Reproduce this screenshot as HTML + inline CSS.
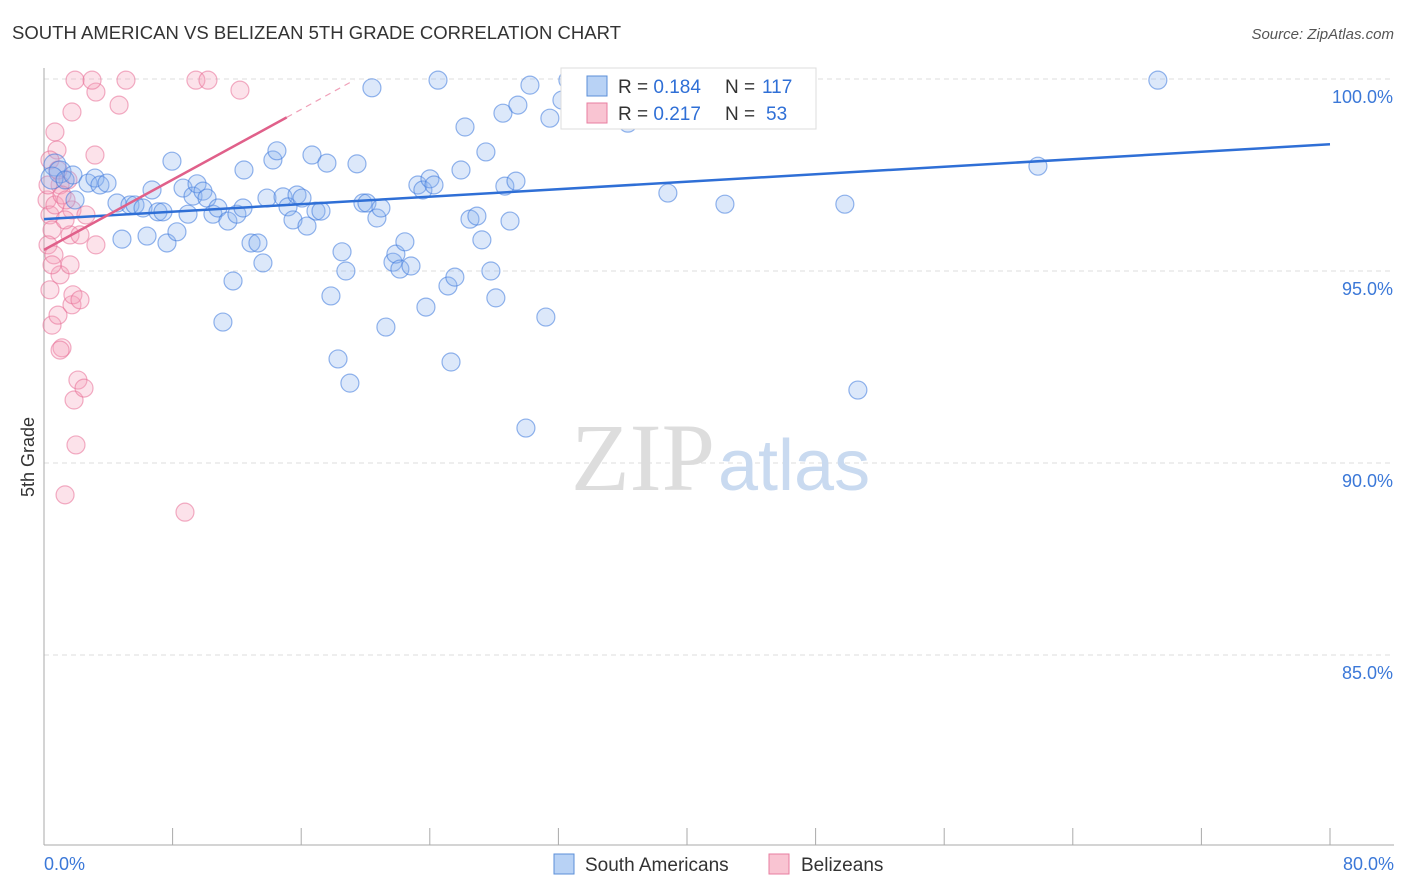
<!DOCTYPE html>
<html><head><meta charset="utf-8"><style>
body{margin:0;background:#fff;font-family:"Liberation Sans",sans-serif;}
</style></head><body>
<svg width="1406" height="892" viewBox="0 0 1406 892" xmlns="http://www.w3.org/2000/svg" style="display:block">
<text x="12" y="39" font-size="18.5" fill="#333" textLength="609">SOUTH AMERICAN VS BELIZEAN 5TH GRADE CORRELATION CHART</text>
<text x="1394" y="39" font-size="15" fill="#555" text-anchor="end" font-style="italic">Source: ZipAtlas.com</text>
<g id="grid"></g>
<g id="axes"></g>
<text x="715" y="490" font-size="96" font-family="Liberation Serif" fill="#ddd" text-anchor="end">ZIP</text>
<text x="718" y="490" font-size="72" fill="#c9daf0">atlas</text>
<g id="pink"></g>
<g id="blue"></g>
<g id="trends"></g>
<text x="34" y="457" font-size="18" fill="#333" text-anchor="middle" transform="rotate(-90 34 457)">5th Grade</text>
<g>
<rect x="561" y="68" width="255" height="61" fill="#fff" stroke="#ddd"/>
<rect x="587" y="76" width="20" height="20" fill="#b8d2f5" stroke="#5b8fd8"/>
<rect x="587" y="103" width="20" height="20" fill="#f9c4d2" stroke="#e87ea0"/>
<text x="618" y="93" font-size="19" fill="#333">R = <tspan fill="#2f6fd6">0.184</tspan></text>
<text x="725" y="93" font-size="19" fill="#333">N = <tspan x="762" fill="#2f6fd6">117</tspan></text>
<text x="618" y="120" font-size="19" fill="#333">R = <tspan fill="#2f6fd6">0.217</tspan></text>
<text x="725" y="120" font-size="19" fill="#333">N = <tspan x="766" fill="#2f6fd6">53</tspan></text>
</g>
<g>
<rect x="554" y="854" width="20" height="20" fill="#b8d2f5" stroke="#5b8fd8"/>
<text x="585" y="871" font-size="19" fill="#333">South Americans</text>
<rect x="769" y="854" width="20" height="20" fill="#f9c4d2" stroke="#e87ea0"/>
<text x="801" y="871" font-size="19" fill="#333">Belizeans</text>
</g>
</svg>
<script>
const yTicks=[100,95,90,85];
const yTickLabels=["100.0%","95.0%","90.0%","85.0%"];
const xTicks=[0,8,16,24,32,40,48,56,64,72,80];
const blueX=[0.68,1.0,0.5,1.31,1.93,1.8,2.74,3.17,3.48,3.92,4.54,4.85,5.35,5.66,6.16,6.41,6.72,7.09,7.4,7.65,7.96,8.27,8.65,8.96,9.27,9.52,9.89,10.14,10.51,10.82,11.13,11.44,11.76,12.0,12.38,12.44,12.88,13.31,13.62,13.87,14.24,14.49,14.87,15.18,15.49,15.74,16.05,16.36,16.67,16.92,17.23,17.6,17.85,18.29,18.54,18.78,19.03,19.47,19.84,20.09,20.4,20.71,20.96,21.27,21.71,21.89,22.14,22.45,22.83,23.26,23.57,23.76,24.01,24.26,24.51,25.13,25.32,25.56,25.94,26.19,26.5,26.93,27.24,27.49,27.8,28.11,28.67,28.55,28.99,29.36,29.48,29.98,30.23,31.22,31.47,32.22,32.59,36.32,37.07,38.81,41.18,42.36,49.82,50.63,61.83,69.29];
const blueY=[97.76,97.58,97.42,97.37,96.85,97.5,97.29,97.42,97.24,97.29,96.77,95.83,96.72,96.72,96.64,95.91,97.11,96.54,96.54,95.73,97.86,96.02,97.16,96.48,96.95,97.27,97.08,96.9,96.48,96.64,93.67,96.3,94.74,96.48,96.64,97.63,95.73,95.73,95.21,96.9,97.89,98.13,96.93,96.67,96.33,96.98,96.9,96.17,98.02,96.56,96.56,97.81,94.35,92.71,95.5,95.0,92.08,97.79,96.77,96.77,99.77,96.38,96.64,93.54,95.23,95.44,95.05,95.76,95.13,97.24,97.11,94.06,97.4,97.24,99.97,94.61,92.63,94.84,97.63,98.75,96.35,96.43,95.81,98.1,95.0,94.3,97.21,99.11,96.3,97.34,99.32,90.91,99.84,93.8,98.98,99.45,99.97,98.85,99.58,97.03,99.97,96.74,96.74,91.9,97.73,99.97];
const pinkX=[0.68,0.81,0.19,0.37,0.5,0.25,0.62,0.37,0.5,0.87,1.0,1.12,1.31,1.62,1.62,1.74,1.74,1.8,1.93,1.99,2.11,1.87,2.24,2.24,2.49,2.61,3.17,3.23,3.23,2.99,4.67,5.1,8.77,9.45,10.2,12.19,1.74,1.49,1.0,0.68,1.31,0.25,0.37,0.87,1.12,1.37,0.5,1.0];
const pinkY=[98.62,98.15,96.85,96.46,96.07,95.68,95.42,94.51,93.59,93.85,94.9,93.0,89.17,95.16,95.94,96.59,94.12,94.38,99.97,90.47,92.16,91.64,94.25,95.94,91.95,96.46,98.02,95.68,99.66,99.97,99.32,99.97,88.72,99.97,99.97,99.71,99.14,97.37,97.24,96.72,96.33,97.24,97.89,97.63,96.98,96.85,95.16,92.94];
const blueTrend=[[0,96.35],[80,98.3]];
const pinkTrend=[[0,95.55],[15.1,99.0]];
const pinkDash=[[15.1,99.0],[19.3,99.97]];
const NS="http://www.w3.org/2000/svg";
const X=v=>44+v*16.075, Y=v=>79+(100-v)*38.4;
function mk(t,a,p){const e=document.createElementNS(NS,t);for(const k in a)e.setAttribute(k,a[k]);p.appendChild(e);return e;}
const grid=document.getElementById('grid'),axes=document.getElementById('axes');
yTicks.forEach((t,i)=>{
 const l=mk('line',{x1:44,x2:1394,y1:Y(t),y2:Y(t),stroke:'#ddd','stroke-dasharray':'5,4'},grid);
 
 
 const tx=mk('text',{x:1393,y:Y(t)+24,'font-size':18,fill:'#3b78d8','text-anchor':'end'},axes);
 tx.textContent=yTickLabels[i];
 
 
});
const ya=mk('line',{x1:44,x2:44,y1:68,y2:845,stroke:'#aaa'},axes);


const xa=mk('line',{x1:44,x2:1394,y1:845,y2:845,stroke:'#aaa'},axes);


xTicks.forEach(t=>{
 const l=mk('line',{x1:X(t),x2:X(t),y1:828,y2:845,stroke:'#aaa'},axes);
 
 
});
[[0,'0.0%','start',44],[80,'80.0%','end',1394]].forEach(d=>{
 const tx=mk('text',{x:d[3],y:870,'font-size':18,fill:'#3b78d8','text-anchor':d[2]},axes);
 tx.textContent=d[1];
 
 
});
const pg=document.getElementById('pink');
pinkX.forEach((x,i)=>{
 const c=mk('circle',{cx:X(x),cy:Y(pinkY[i]),r:9,fill:'rgba(244,160,185,0.3)',stroke:'rgba(232,110,150,0.55)','stroke-width':1.2},pg);
 
 
});
const bg=document.getElementById('blue');
blueX.forEach((x,i)=>{
 const c=mk('circle',{cx:X(x),cy:Y(blueY[i]),r:i<3?11:9,fill:'rgba(140,180,240,0.3)',stroke:'rgba(60,120,220,0.55)','stroke-width':1.2},bg);
 
 
});
const tg=document.getElementById('trends');
const bl=mk('line',{x1:X(blueTrend[0][0]),y1:Y(blueTrend[0][1]),x2:X(blueTrend[1][0]),y2:Y(blueTrend[1][1]),stroke:'#2f6fd6','stroke-width':2.5},tg);


const pl=mk('line',{x1:X(pinkTrend[0][0]),y1:Y(pinkTrend[0][1]),x2:X(pinkTrend[1][0]),y2:Y(pinkTrend[1][1]),stroke:'#e0608a','stroke-width':2.5},tg);


const pd=mk('line',{x1:X(pinkDash[0][0]),y1:Y(pinkDash[0][1]),x2:X(pinkDash[1][0]),y2:Y(pinkDash[1][1]),stroke:'#f0a0b8','stroke-width':1.2,'stroke-dasharray':'6,5'},tg);


</script>
</body></html>
